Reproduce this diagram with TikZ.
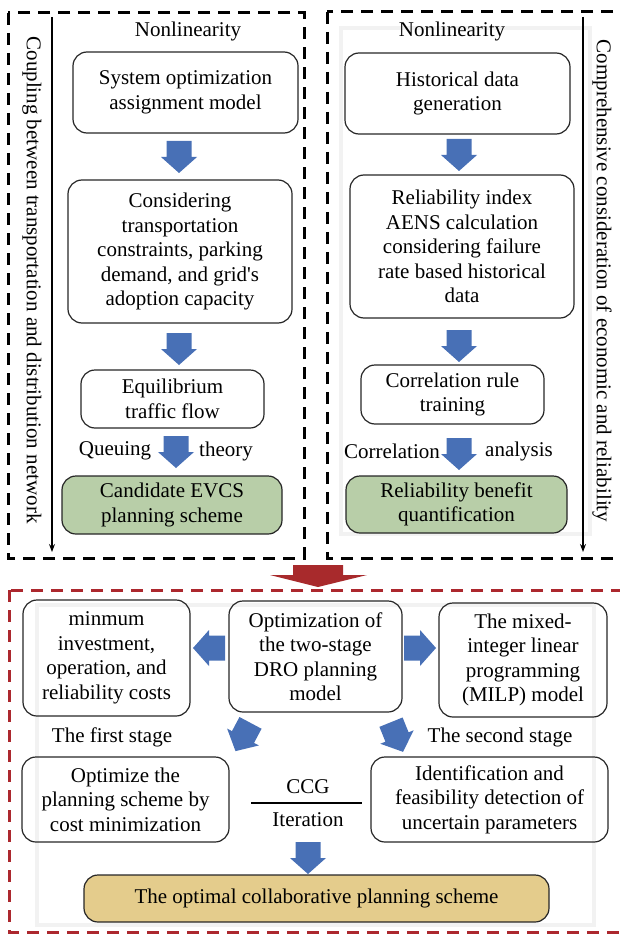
\documentclass[tikz,border=0pt]{standalone}
\usepackage{fontspec}
\setmainfont{Liberation Serif}
\usetikzlibrary{calc,arrows.meta}
\definecolor{arrowblue}{RGB}{72,112,182}
\definecolor{boxgreen}{RGB}{184,206,168}
\definecolor{boxgold}{RGB}{228,204,140}
\definecolor{darkred}{RGB}{168,42,44}
\definecolor{dashred}{RGB}{172,40,46}
\tikzset{
  rbox/.style={draw=black!85, line width=1.2pt, rounded corners=14pt, align=center, inner sep=2pt},
  lbl/.style={align=center, inner sep=1pt},
  blkdash/.style={draw=black, line width=3pt, dash pattern=on 12pt off 8pt},
  reddash/.style={draw=dashred, line width=3pt, dash pattern=on 12pt off 8pt},
  faint/.style={draw=black!5, line width=4pt},
  barrow/.pic={\fill[arrowblue] (-12.5,-16) -- (12.5,-16) -- (12.5,0) -- (18,0) -- (0,16) -- (-18,0) -- (-12.5,0) -- cycle;},
}
\begin{document}
\begin{tikzpicture}[x=1pt,y=-1pt,font=\fontsize{21}{24.5}\selectfont]
\useasboundingbox (0,0) rectangle (619,936);
% faint frames
\draw[faint] (341,28) rectangle (590,534);
\draw[faint] (37,605) rectangle (594,925);
% dashed frames
\draw[blkdash] (8,13) rectangle (304,558);
\draw[blkdash] (327,12) rectangle (624,558);
\draw[reddash] (9,590) rectangle (624,932);
% side arrows and texts
\coordinate (ls) at (52,17); \coordinate (le) at (52,552);
\coordinate (rs) at (583,17); \coordinate (re) at (583,552);
\draw[line width=1.1pt,-{Stealth[length=8pt,width=6pt]}] (ls) -- (le);
\draw[line width=1.1pt,-{Stealth[length=8pt,width=6pt]}] (rs) -- (re);
\node[lbl,rotate=-90] (lside) at (32,280) {Coupling between transportation and distribution network};
\node[lbl,rotate=-90] (rside) at (602,281) {Comprehensive consideration of economic and reliability};
% left column
\node[lbl] (lnon) at (188,31) {Nonlinearity};
\node[rbox,minimum width=225pt,minimum height=81pt] (L1) at (185.5,92.5) {System optimization\\assignment model};
\node[rbox,minimum width=224pt,minimum height=143pt] (L2) at (180,251.5) {Considering\\transportation\\constraints, parking\\demand, and grid\textquotesingle s\\adoption capacity};
\node[rbox,minimum width=183pt,minimum height=58pt] (L3) at (172.5,399) {Equilibrium\\traffic flow};
\node[rbox,fill=boxgreen,minimum width=220pt,minimum height=58pt] (L4) at (172,505) {Candidate EVCS\\planning scheme};
\node[lbl] (queue) at (115,451) {Queuing};
\node[lbl] (theory) at (226,451) {theory};
\pic at (179,157) {barrow};
\pic at (179,349) {barrow};
\pic at (176,452) {barrow};
% right column
\node[lbl] (rnon) at (452,31) {Nonlinearity};
\node[rbox,minimum width=225pt,minimum height=81pt] (R1) at (457.5,93.5) {Historical data\\generation};
\node[rbox,minimum width=224pt,minimum height=143pt] (R2) at (462,246.5) {Reliability index\\AENS calculation\\considering failure\\rate based historical\\data};
\node[rbox,minimum width=183pt,minimum height=59pt] (R3) at (452.5,394.5) {Correlation rule\\training};
\node[rbox,fill=boxgreen,minimum width=221pt,minimum height=57pt] (R4) at (456.5,504.5) {Reliability benefit\\quantification};
\node[lbl] (corr) at (392,451) {Correlation};
\node[lbl] (anal) at (519,451) {analysis};
\pic at (459,155) {barrow};
\pic at (459,346) {barrow};
\pic at (459,454) {barrow};
% big red arrow
\fill[darkred] (293,565) -- (343,565) -- (343,575) -- (367,575) -- (318,587) -- (270,575) -- (293,575) -- cycle;
% bottom part
\node[rbox,minimum width=167pt,minimum height=116pt] (B1) at (106.5,658) {minmum\\investment,\\operation, and\\reliability costs};
\node[rbox,minimum width=173pt,minimum height=111pt] (B2) at (315.5,656.5) {Optimization of\\the two-stage\\DRO planning\\model};
\node[rbox,minimum width=168pt,minimum height=114pt] (B3) at (523,660) {The mixed-\\integer linear\\programming\\(MILP) model};
\node[lbl] (first) at (112,737) {The first stage};
\node[lbl] (second) at (500,737) {The second stage};
\node[rbox,minimum width=207pt,minimum height=85pt] (B4) at (125.5,799.5) {Optimize the\\planning scheme by\\cost minimization};
\node[rbox,minimum width=237pt,minimum height=85pt] (B5) at (489.5,799.5) {Identification and\\feasibility detection of\\uncertain parameters};
\node[lbl] (ccg) at (308,787) {CCG};
\node[lbl] (iter) at (308,820) {Iteration};
\coordinate (cl) at (251,803); \coordinate (cr) at (362,803);
\draw[line width=1.2pt] (cl) -- (cr);
\node[rbox,fill=boxgold,minimum width=465pt,minimum height=47pt] (B6) at (316.5,898.5) {The optimal collaborative planning scheme};
\pic[rotate=-90] at (209,648) {barrow};
\pic[rotate=90] at (420,648) {barrow};
\pic[rotate=-28] at (243,737) {barrow};
\pic[rotate=22] at (397,737) {barrow};
\pic at (308,858) {barrow};
\end{tikzpicture}
\end{document}
